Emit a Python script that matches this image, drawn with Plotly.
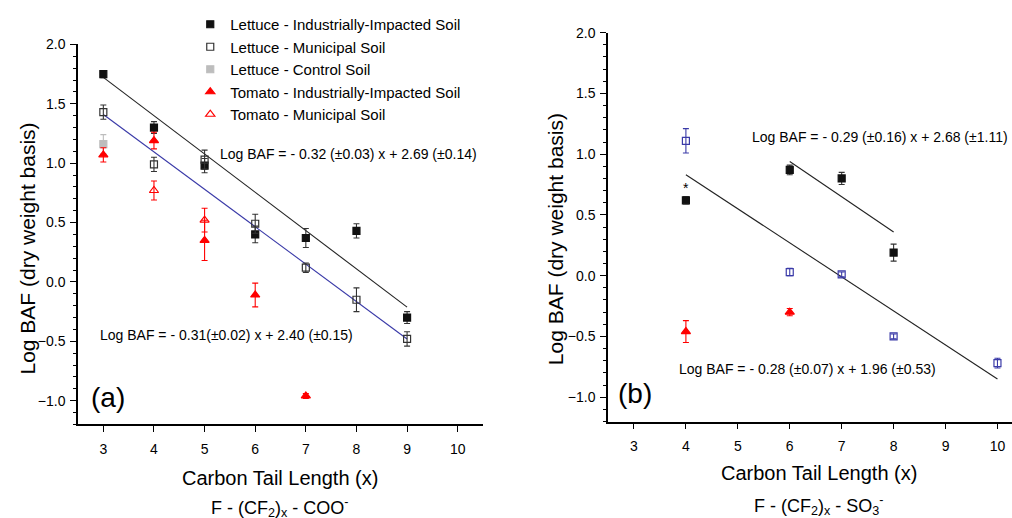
import plotly.graph_objects as go

# ---------------- data: panel (a) carboxylates ----------------
x_a_li = [3, 4, 5, 6, 7, 8, 9]
y_a_li = [1.75, 1.30, 0.98, 0.40, 0.37, 0.43, -0.30]
e_a_li = [0.03, 0.05, 0.06, 0.07, 0.08, 0.06, 0.05]

x_a_lm = [3, 4, 5, 6, 7, 8, 9]
y_a_lm = [1.43, 0.99, 1.03, 0.49, 0.12, -0.15, -0.48]
e_a_lm = [0.06, 0.06, 0.08, 0.08, 0.04, 0.10, 0.06]

x_a_lc = [3]
y_a_lc = [1.16]
e_a_lc = [0.08]

x_a_ti = [3, 4, 5, 6, 7]
y_a_ti = [1.07, 1.19, 0.35, -0.11, -0.96]
e_a_ti = [0.06, 0.07, 0.17, 0.10, 0.02]

x_a_tm = [4, 5]
y_a_tm = [0.77, 0.52]
e_a_tm = [0.08, 0.10]

# fit lines (a)
fit_a1 = dict(slope=-0.3225, intercept=2.69, x0=3, x1=9)
fit_a2 = dict(slope=-0.315, intercept=2.355, x0=3, x1=9)

# ---------------- data: panel (b) sulfonates ----------------
x_b_li = [4, 6, 7, 8]
y_b_li = [0.62, 0.87, 0.80, 0.19]
e_b_li = [0.03, 0.04, 0.05, 0.07]

x_b_lm = [4, 6, 7, 8, 10]
y_b_lm = [1.11, 0.03, 0.01, -0.50, -0.72]
e_b_lm = [0.10, 0.03, 0.02, 0.02, 0.04]

x_b_ti = [4, 6]
y_b_ti = [-0.46, -0.30]
e_b_ti = [0.09, 0.03]

fit_b1 = dict(slope=-0.29, intercept=2.68, x0=6, x1=8)
fit_b2 = dict(slope=-0.28, intercept=1.95, x0=4, x1=10)

eq_a1 = "Log BAF = - 0.32 (±0.03) x + 2.69 (±0.14)"
eq_a2 = "Log BAF = - 0.31(±0.02) x + 2.40 (±0.15)"
eq_b1 = "Log BAF = - 0.29 (±0.16) x + 2.68 (±1.11)"
eq_b2 = "Log BAF = - 0.28 (±0.07) x + 1.96 (±0.53)"

names = ["Lettuce - Industrially-Impacted Soil", "Lettuce - Municipal Soil",
         "Lettuce - Control Soil", "Tomato - Industrially-Impacted Soil",
         "Tomato - Municipal Soil"]

FONT = "Liberation Sans, Arial, sans-serif"
BLACK = "#111111"
RED = "#ff0000"
GRAY = "#bdbdbd"
BLUE = "#3a3aa8"

fig = go.Figure()


def pts(x, y, e, name, symbol, color, ecolor, xa, ya, show, group, fill=None):
    fig.add_trace(go.Scatter(
        x=x, y=y, mode="markers", name=name, legendgroup=group, showlegend=show,
        marker=dict(symbol=symbol, size=8 if "triangle" in symbol else 7,
                    color=fill if fill else color,
                    line=dict(color=color, width=1.2)),
        error_y=dict(type="data", array=e, visible=True, color=ecolor,
                     thickness=1.1, width=3),
        xaxis=xa, yaxis=ya))


def fit(f, color, xa, ya):
    xs = [f["x0"], f["x1"]]
    ys = [f["slope"] * v + f["intercept"] for v in xs]
    fig.add_trace(go.Scatter(x=xs, y=ys, mode="lines", showlegend=False,
                             line=dict(color=color, width=1.1),
                             xaxis=xa, yaxis=ya, hoverinfo="skip"))


fit(fit_a1, "#222222", "x", "y")
fit(fit_a2, BLUE, "x", "y")
fit(fit_b1, "#222222", "x2", "y2")
fit(fit_b2, "#222222", "x2", "y2")

pts(x_a_li, y_a_li, e_a_li, names[0], "square", BLACK, "#333333", "x", "y", True, "g0")
pts(x_a_lm, y_a_lm, e_a_lm, names[1], "square-open", "#333333", "#333333", "x", "y", True, "g1")
pts(x_a_lc, y_a_lc, e_a_lc, names[2], "square", GRAY, GRAY, "x", "y", True, "g2")
pts(x_a_ti, y_a_ti, e_a_ti, names[3], "triangle-up", RED, RED, "x", "y", True, "g3")
pts(x_a_tm, y_a_tm, e_a_tm, names[4], "triangle-up-open", RED, RED, "x", "y", True, "g4")

pts(x_b_li, y_b_li, e_b_li, names[0], "square", BLACK, "#333333", "x2", "y2", False, "g0")
pts(x_b_lm, y_b_lm, e_b_lm, names[1], "square-open", BLUE, BLUE, "x2", "y2", False, "g1")
pts(x_b_ti, y_b_ti, e_b_ti, names[3], "triangle-up", RED, RED, "x2", "y2", False, "g3")

ann = []


def txt(text, x, y, size, xref="paper", yref="paper", xanchor="center", angle=0):
    ann.append(dict(text=text, x=x, y=y, xref=xref, yref=yref, showarrow=False,
                    xanchor=xanchor, yanchor="middle", textangle=angle,
                    font=dict(family=FONT, size=size, color="#000000")))


txt(eq_a1, 5.27, 1.075, 14, "x", "y", "left")
txt(eq_a2, 2.9, -0.45, 14, "x", "y", "left")
txt(eq_b1, 5.24, 1.14, 14, "x2", "y2", "left")
txt(eq_b2, 3.83, -0.77, 14, "x2", "y2", "left")
txt("(a)", 2.72, -0.97, 28, "x", "y", "left")
txt("(b)", 2.65, -0.97, 28, "x2", "y2", "left")
txt("*", x_b_li[0], y_b_li[0] + 0.1, 14, "x2", "y2")

txt("Log BAF (dry weight basis)", 0.027, 0.529, 21, angle=-90)
txt("Log BAF (dry weight basis)", 0.549, 0.546, 21, angle=-90)
txt("Carbon Tail Length (x)", 0.2767, 0.079, 20)
txt("Carbon Tail Length (x)", 0.809, 0.089, 20)
txt("F - (CF<sub>2</sub>)<sub>x</sub> - COO<sup>-</sup>", 0.2767, 0.021, 18)
txt("F - (CF<sub>2</sub>)<sub>x</sub> - SO<sub>3</sub><sup>-</sup>", 0.809, 0.025, 18)

xax = dict(showline=True, linecolor="#000000", linewidth=1.5, ticks="outside",
           ticklen=6, tickwidth=1.3, tickcolor="#000000", showgrid=False,
           zeroline=False, tickvals=[3, 4, 5, 6, 7, 8, 9, 10], ticklabelstandoff=5,
           tickfont=dict(family=FONT, size=14, color="#000000"))
yax = dict(showline=True, linecolor="#000000", linewidth=1.5, ticks="outside",
           ticklen=6, tickwidth=1.3, tickcolor="#000000", showgrid=False,
           zeroline=False, range=[-1.2, 2.0], tickvals=[-1.0, -0.5, 0.0, 0.5, 1.0, 1.5, 2.0],
           tickformat=".1f", ticklabelstandoff=2,
           tickfont=dict(family=FONT, size=14, color="#000000"),
           minor=dict(dtick=0.1, tick0=0, ticks="outside", ticklen=3,
                      tickcolor="#000000", tickwidth=1))

fig.update_layout(
    width=1012, height=518,
    margin=dict(l=0, r=0, t=0, b=0),
    paper_bgcolor="white", plot_bgcolor="white",
    font=dict(family=FONT, color="#000000"),
    xaxis=dict(xax, domain=[0.0771, 0.4773], range=[2.5, 10.5], anchor="y"),
    yaxis=dict(yax, domain=[0.1834, 0.9286], anchor="x"),
    xaxis2=dict(xax, domain=[0.6008, 1.0], range=[2.5, 10.28], anchor="y2"),
    yaxis2=dict(yax, domain=[0.1892, 0.9517], anchor="x2"),
    legend=dict(x=0.188, y=1.0, xanchor="left", yanchor="top",
                bgcolor="rgba(0,0,0,0)", tracegroupgap=0,
                font=dict(family=FONT, size=15, color="#000000")),
    annotations=ann,
    showlegend=True,
)

fig.write_html("out.html", config={"displayModeBar": False},
               post_script="document.body.style.margin='0px';document.body.style.overflow='hidden';")
